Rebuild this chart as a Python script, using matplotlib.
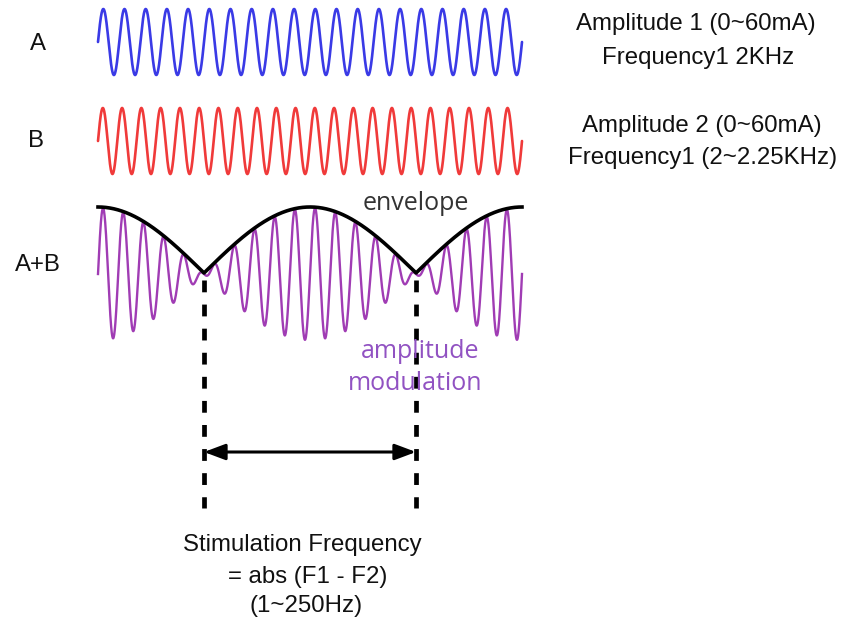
import numpy as np
import matplotlib
matplotlib.use("Agg")
import matplotlib.pyplot as plt

# ---- diagram values ----
cycles_A = 20          # cycles of wave A across the drawing
cycles_B = 22          # cycles of wave B across the drawing
amplitude = 1.0        # relative amplitude of A and B
labels_left = ["A", "B", "A+B"]
right_text_A = ["Amplitude 1 (0~60mA)", "Frequency1 2KHz"]
right_text_B = ["Amplitude 2 (0~60mA)", "Frequency1 (2~2.25KHz)"]
bottom_text = ["Stimulation Frequency", "= abs (F1 - F2)", "(1~250Hz)"]
envelope_label = "envelope"
am_label = ["amplitude", "modulation"]

W, H = 845, 627
fig = plt.figure(figsize=(W / 100, H / 100), dpi=100)
ax = fig.add_axes([0, 0, 1, 1])
ax.set_xlim(0, W)
ax.set_ylim(H, 0)
ax.axis("off")

# layout in pixel space
x0, x1 = 98, 522
amp_px = 33
midA, midB, midS = 42, 141, 274

t = np.linspace(0, 1, 4000)
x = x0 + t * (x1 - x0)
a = amplitude * np.sin(2 * np.pi * cycles_A * t)
b = amplitude * np.sin(2 * np.pi * cycles_B * t)
s = a + b
beat = (cycles_B - cycles_A) / 2.0
env = 2 * amplitude * np.abs(np.cos(2 * np.pi * beat * t))

ax.plot(x, midA - amp_px * a, color="#3a3ae6", lw=1.9, solid_capstyle="round")
ax.plot(x, midB - amp_px * b, color="#f03a3a", lw=1.9, solid_capstyle="round")
ax.plot(x, midS - amp_px * s, color="#a03cb4", lw=1.7)

fam = ["Liberation Sans", "DejaVu Sans"]
fam2 = ["Open Sans", "DejaVu Sans"]
fs = 17.3
tc = "#111111"
ax.text(38, 44, labels_left[0], fontsize=fs, family=fam, ha="center", va="center", color=tc)
ax.text(36, 141, labels_left[1], fontsize=fs, family=fam, ha="center", va="center", color=tc)
ax.text(38, 265, labels_left[2], fontsize=fs, family=fam, ha="center", va="center", color=tc)

ax.text(696, 24, right_text_A[0], fontsize=fs, family=fam, ha="center", va="center", color=tc)
ax.text(698, 58, right_text_A[1], fontsize=fs, family=fam, ha="center", va="center", color=tc)
ax.text(702, 126, right_text_B[0], fontsize=fs, family=fam, ha="center", va="center", color=tc)
ax.text(703, 158, right_text_B[1], fontsize=fs, family=fam, ha="center", va="center", color=tc)

for xv, yv, txt in zip([302, 308, 306], [545, 577, 606], bottom_text):
    ax.text(xv, yv, txt, fontsize=fs, family=fam, ha="center", va="center", color=tc)

ax.text(416, 203, envelope_label, fontsize=18, family=fam2, ha="center", va="center", color="#333333")
ax.text(420, 351, am_label[0], fontsize=18, family=fam2, ha="center", va="center", color="#9152c2")
ax.text(415, 384, am_label[1], fontsize=18, family=fam2, ha="center", va="center", color="#9152c2")

ax.plot(x, midS - amp_px * env - 1, color="black", lw=2.6)

# beat minima
t_min = np.array([1 / (4 * beat), 3 / (4 * beat)])
xm = x0 + t_min * (x1 - x0)
for xv in xm:
    ax.plot([xv, xv], [280, 508], color="black", lw=3.4,
            linestyle=(0, (2.5, 2.6)), solid_capstyle="butt")

ax.annotate("", xy=(xm[1], 452), xytext=(xm[0], 452),
            arrowprops=dict(arrowstyle="<|-|>,head_length=0.8,head_width=0.3",
                            color="black", lw=2.2,
                            mutation_scale=16, shrinkA=0, shrinkB=0))

fig.savefig("out.png", dpi=100, facecolor="white")
